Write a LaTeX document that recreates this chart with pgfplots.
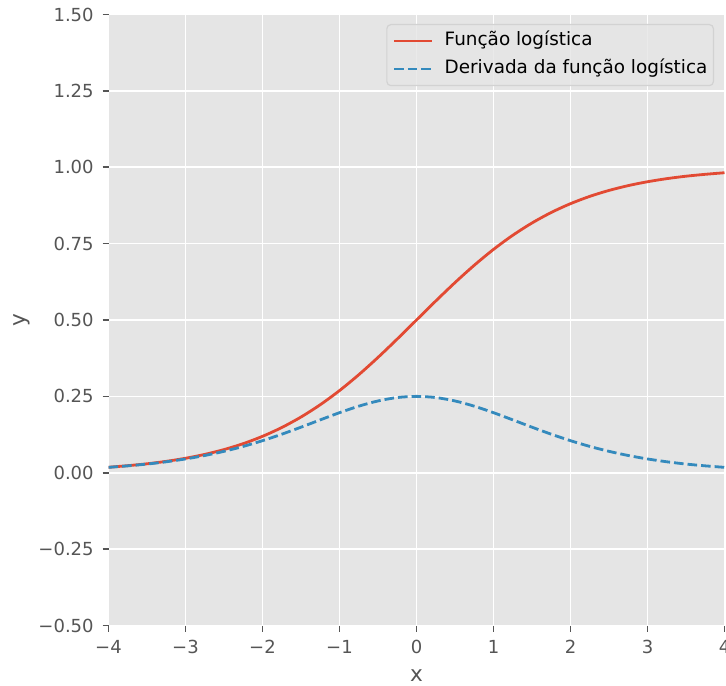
\documentclass[border=0pt]{standalone}
\usepackage{fontspec}
\setmainfont{DejaVu Sans}
\usepackage{pgfplots}
\pgfplotsset{compat=1.18}

\definecolor{panel}{HTML}{E5E5E5}
\definecolor{tickgray}{HTML}{555555}
\definecolor{ggred}{HTML}{E24A33}
\definecolor{ggblue}{HTML}{348ABD}
\definecolor{legedge}{HTML}{D2D2D2}

% sigma(x) = 1/(1+e^{-x}) and its derivative, sampled every 0.25
\pgfplotstableread{
x      s        ds
-4.00  0.01799  0.01766
-3.75  0.02315  0.02261
-3.50  0.02931  0.02845
-3.25  0.03733  0.03593
-3.00  0.04743  0.04518
-2.75  0.06009  0.05648
-2.50  0.07586  0.07010
-2.25  0.09535  0.08626
-2.00  0.11920  0.10499
-1.75  0.14805  0.12613
-1.50  0.18243  0.14915
-1.25  0.22270  0.17310
-1.00  0.26894  0.19661
-0.75  0.32082  0.21790
-0.50  0.37754  0.23500
-0.25  0.43782  0.24613
 0.00  0.50000  0.25000
 0.25  0.56218  0.24613
 0.50  0.62246  0.23500
 0.75  0.67918  0.21790
 1.00  0.73106  0.19661
 1.25  0.77730  0.17310
 1.50  0.81757  0.14915
 1.75  0.85195  0.12613
 2.00  0.88080  0.10499
 2.25  0.90465  0.08626
 2.50  0.92414  0.07010
 2.75  0.93991  0.05648
 3.00  0.95257  0.04518
 3.25  0.96267  0.03593
 3.50  0.97069  0.02845
 3.75  0.97685  0.02261
 4.00  0.98201  0.01766
}\logistic

\begin{document}
\begin{tikzpicture}
\useasboundingbox (-54.25pt,-29.75pt) rectangle (308.75pt,312.75pt);
\begin{axis}[
  at={(0,0)}, anchor=south west,
  scale only axis,
  width=308pt, height=305.5pt,
  xmin=-4, xmax=4, ymin=-0.5, ymax=1.5,
  xtick={-4,-3,-2,-1,0,1,2,3,4},
  xticklabels={−4,−3,−2,−1,0,1,2,3,4},
  ytick={-0.5,-0.25,0,0.25,0.5,0.75,1,1.25,1.5},
  yticklabels={−0.50,−0.25,0.00,0.25,0.50,0.75,1.00,1.25,1.50},
  xtick pos=bottom, ytick pos=left,
  tick align=outside,
  major tick length=3pt,
  tick style={color=tickgray, line width=0.8pt},
  axis line style={draw=none},
  axis background/.style={fill=panel},
  grid=major,
  major grid style={white, line width=0.8pt},
  ticklabel style={font=\fontsize{9}{11}\selectfont, text=tickgray},
  xticklabel style={yshift=-0.95pt},
  yticklabel style={xshift=-0.9pt},
  xlabel={x}, ylabel={y},
  label style={font=\fontsize{10.8}{13}\selectfont, text=tickgray},
  xlabel style={at={(axis description cs:0.5,-0.0827)}, anchor=center},
  ylabel style={at={(axis description cs:-0.1404,0.5)}, anchor=center},
  legend cell align=left,
  legend image code/.code={\draw (0pt,0pt) -- (19pt,0pt);},
  legend style={
    at={(1,1)}, anchor=north east, xshift=-5.25pt, yshift=-4.75pt,
    font=\fontsize{9.2}{11}\selectfont,
    draw=legedge, line width=0.6pt, fill=panel, fill opacity=0.8, text opacity=1,
    rounded corners=2pt,
    inner xsep=3pt, inner ysep=3.95pt,
    row sep=5.4pt,
    nodes={inner sep=0pt, text height=6.6pt, text depth=2pt},
    /tikz/every odd column/.append style={column sep=5.5pt},
  },
]
\addplot[ggred, line width=1.4pt, smooth] table[x=x, y=s] {\logistic};
\addlegendentry{Função logística}
\addplot[ggblue, line width=1.4pt, smooth, dash pattern=on 4.8pt off 2pt] table[x=x, y=ds] {\logistic};
\addlegendentry{Derivada da função logística}
\end{axis}
\end{tikzpicture}
\end{document}
